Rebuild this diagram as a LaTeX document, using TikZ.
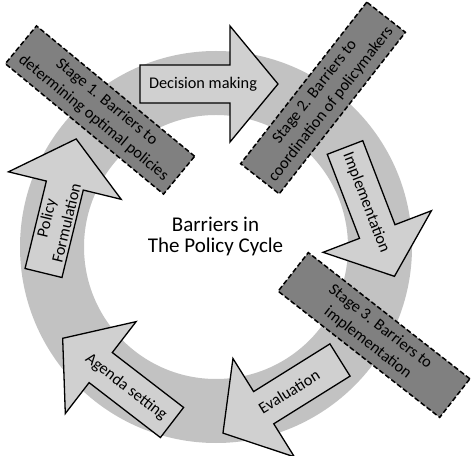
\documentclass[tikz,border=0pt]{standalone}
\usepackage{fontspec}
\setmainfont{Carlito}
\usepackage{tikz}
\usetikzlibrary{calc}
\definecolor{ringg}{RGB}{194,194,194}
\definecolor{arrowg}{RGB}{208,208,208}
\definecolor{stageg}{RGB}{128,128,128}

\begin{document}
\begin{tikzpicture}[
  x=1pt, y=1pt,
  every node/.style={font=\fontsize{16.3}{20.5}\selectfont, inner sep=0pt},
  blockarr/.pic={
    \draw[line width=1.3pt, fill=arrowg, line join=miter]
      (0,-19) -- (90,-19) -- (90,-58) -- (138,0) -- (90,58) -- (90,19)
      -- (0,19) -- cycle;
  },
  arrtxt/.style={align=center},
  stagebox/.style={draw, fill=stageg, line width=1.5pt,
    dash pattern=on 5pt off 2.5pt, minimum width=205pt,
    minimum height=49pt, align=center},
  title/.style={font=\fontsize{21}{21}\selectfont, align=center},
]
\useasboundingbox (0,0) rectangle (473,455);

% the ring
\fill[ringg, even odd rule] (216,208) circle (196) (216,208) circle (132);

% the five steps of the cycle
\pic[rotate=0]     at (140,371)   {blockarr};
\pic[rotate=-69]   at (345,307.5) {blockarr};
\pic[rotate=-148]  at (340,95)    {blockarr};
\pic[rotate=142.4] at (172,32.5)  {blockarr};
\pic[rotate=76.3]  at (43.5,182)  {blockarr};

\node[arrtxt] (dm) at ([shift={(0:63)}]140,371) {Decision making};
\node[arrtxt, rotate=-69] (im) at ([shift={(-69:59)}]345,307.5)
  {Implementation};
\node[arrtxt, rotate=32] (ev) at ([shift={(-148:60)}]340,95) {Evaluation};
\node[arrtxt, rotate=-37.6] (as) at ([shift={(142.4:58)}]172,32.5)
  {Agenda setting};
\node[arrtxt, rotate=76.3] (pf) at ([shift={(76.3:54)}]43.5,182)
  {Policy\\Formulation};

% the barriers
\node[stagebox, rotate=-39.5] (s1) at (100,345)
  {Stage 1. Barriers to\\determining optimal policies};
\node[stagebox, rotate=52] (s2) at (323,357)
  {Stage 2. Barriers to\\coordination of policymakers};
\node[stagebox, rotate=-38] (s3) at (374,120)
  {Stage 3. Barriers to\\implementation};

\node[title] (ttl) at (215.5,219) {Barriers in\\The Policy Cycle};
\end{tikzpicture}
\end{document}
